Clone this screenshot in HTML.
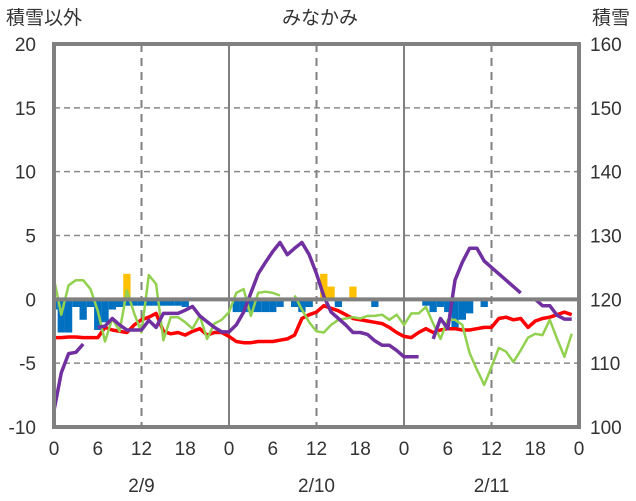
<!DOCTYPE html>
<html><head><meta charset="utf-8">
<style>
html,body{margin:0;padding:0;background:#fff;}
svg{display:block;font-family:"Liberation Sans","Noto Sans CJK JP",sans-serif;}
</style></head>
<body>
<svg id="chart" width="636" height="501" viewBox="0 0 636 501" xmlns="http://www.w3.org/2000/svg">
<text x="6" y="24" font-size="19" fill="#333">積雪以外</text>
<text x="320" y="24" font-size="19" fill="#333" text-anchor="middle">みなかみ</text>
<text x="630" y="24" font-size="19" fill="#333" text-anchor="end">積雪</text>
<g id="grid"></g>
<g id="bars"></g>
<g id="lines"></g>
<g id="frame"></g>
<g id="labels"></g>
</svg>
<script>
const leftTicks = [20, 15, 10, 5, 0, -5, -10];
const rightTicks = [160, 150, 140, 130, 120, 110, 100];
const hourTicks = ["0","6","12","18","0","6","12","18","0","6","12","18","0"];
const dateLabels = ["2/9", "2/10", "2/11"];
const blueBars = [-0.8,-2.6,-2.6,-0.6,-1.6,-0.6,-2.4,-1.8,-0.8,-0.6,-0.5,-0.5,-0.5,-0.5,-0.5,-0.5,-0.5,-0.5,-0.6,0,0,0,0,0,
 0,-1.0,-1.0,-1.0,-1.0,-1.0,-1.0,-0.6,0,-0.6,-1.0,-0.6,0,0,0,-0.6,0,0,0,0,-0.6,0,0,0,
 0,0,0,-0.5,-1.0,-0.6,-1.0,-2.2,-1.6,-1.1,0,-0.6,0,0,0,0,0,0,0,0,0,0,0,0];
const yellowBars = [0,0,0,0,0,0,0,0,0,0,2.0,0,0,0,0,0,0,0,0,0,0,0,0,0,
 0,0,0,0,0,0,0,0,0,0,0,0,0,2.0,1.0,0,0,1.0,0,0,0,0,0,0,
 0,0,0,0,0,0,0,0,0,0,0,0,0,0,0,0,0,0,0,0,0,0,0,0];
const redSeries = [-3.0,-3.0,-2.95,-2.95,-3.0,-3.0,-3.0,-2.2,-2.4,-2.5,-2.6,-2.0,-1.6,-1.4,-1.1,-2.5,-2.7,-2.6,-2.8,-2.5,-2.3,-2.8,-2.6,-2.6,
 -2.9,-3.3,-3.4,-3.4,-3.3,-3.3,-3.3,-3.2,-3.1,-2.8,-1.5,-1.2,-1.0,-0.5,-0.7,-0.9,-1.2,-1.5,-1.6,-1.7,-1.8,-1.9,-2.2,-2.6,
 -2.9,-3.0,-2.6,-2.3,-2.6,-2.4,-2.3,-2.3,-2.4,-2.4,-2.3,-2.2,-2.2,-1.5,-1.4,-1.6,-1.5,-2.2,-1.7,-1.5,-1.4,-1.2,-1.0,-1.2,null];
const greenSeries = [1.6,-1.2,1.1,1.5,1.5,0.8,-0.9,-3.3,-1.5,-2.5,0.7,-1.1,-2.6,1.9,1.2,-3.2,-1.4,-1.4,-1.8,-2.3,-1.3,-3.1,-1.9,-1.6,
 -1.0,0.5,0.8,-1.3,0.5,0.6,0.5,0.3,null,0.3,-0.8,-1.8,-2.5,-2.6,-2.0,-1.6,-1.5,-1.4,-1.5,-1.3,-1.3,-1.2,-1.6,-1.2,
 -2.0,-1.1,-1.1,-0.6,-1.9,-3.1,-1.6,-1.6,-2.0,-4.2,-5.5,-6.7,-5.3,-3.8,-4.1,-4.9,-4.0,-3.0,-2.7,-2.8,-1.6,-3.1,-4.5,-2.7,null];
const snowDepth = [102.6,108.5,111.5,111.7,113,null,115.6,115.8,117,116,115.2,115.2,115.2,116.7,115.6,117.8,117.8,117.8,118.3,118.9,117.4,116.5,115.6,114.9,
 114.9,116,118,121,124,125.8,127.5,128.9,127,128,128.9,127,124,120.5,118,117,116,114.8,114.8,114.5,113.5,112.8,112.8,112,
 111,111,111,null,113.8,117,115.4,123,125.8,128,128,126,125,124,123,122,121,null,120,119,119,117.5,116.9,116.9,null];

const NS = "http://www.w3.org/2000/svg";
const X0 = 54, X1 = 579, Y0 = 44, Y1 = 427;
const HOURS = 72;
function xs(h){ return X0 + (X1 - X0) * h / HOURS; }
function yl(v){ return Y0 + (20 - v) * (Y1 - Y0) / 30; }
function yr(v){ return Y0 + (160 - v) * (Y1 - Y0) / 60; }
function mk(tag, attrs, parent){
  const e = document.createElementNS(NS, tag);
  for (const k in attrs) e.setAttribute(k, attrs[k]);
  parent.appendChild(e);
  return e;
}
const grid = document.getElementById('grid');
const bars = document.getElementById('bars');
const lines = document.getElementById('lines');
const frame = document.getElementById('frame');
const labels = document.getElementById('labels');

// horizontal grid
leftTicks.forEach(v => {
  if (v === 20 || v === -10 || v === 0) return;
  const l = mk('line', {x1:X0, x2:X1, y1:yl(v), y2:yl(v), stroke:'#8a8a8a', 'stroke-width':1.5, 'stroke-dasharray':'6,4'}, grid);
  
  
});
// vertical grid
for (let i = 1; i < hourTicks.length - 1; i++) {
  const h = i * 6;
  if (h % 12 !== 0) continue;
  const solid = h % 24 === 0;
  const l = mk('line', {x1:xs(h), x2:xs(h), y1:Y0, y2:Y1, stroke:'#808080', 'stroke-width':2, 'stroke-dasharray': solid ? 'none' : '8,6'}, grid);
  
  
}
// bars
const bw = (X1 - X0) / HOURS;
function drawBars(arr, color, name){
  arr.forEach((v, i) => {
    if (!v) return;
    let xa = Math.max(X0, xs(i) - bw/2), xb = Math.min(X1, xs(i) + bw/2);
    const y = Math.min(yl(0), yl(v)), hgt = Math.abs(yl(v) - yl(0));
    const r = mk('rect', {x:xa, y:y, width:xb - xa, height:hgt, fill:color}, bars);
    
    
  });
}
drawBars(blueBars, '#0070c0', 'negative-bar');
drawBars(yellowBars, '#ffc000', 'positive-bar');
// zero axis
const z = mk('line', {x1:X0, x2:X1, y1:yl(0), y2:yl(0), stroke:'#808080', 'stroke-width':4}, frame);


// lines
function drawLine(arr, yf, color, w, name){
  let d = '', pen = false;
  arr.forEach((v, i) => {
    if (v === null) { pen = false; return; }
    d += (pen ? 'L' : 'M') + xs(i).toFixed(1) + ' ' + yf(v).toFixed(1) + ' ';
    pen = true;
  });
  const p = mk('path', {d:d, fill:'none', stroke:color, 'stroke-width':w, 'stroke-linejoin':'round'}, lines);
  
  
}
drawLine(redSeries, yl, '#ff0000', 3.5, 'red-series-line');
drawLine(greenSeries, yl, '#92d050', 2.5, 'green-series-line');
drawLine(snowDepth, yr, '#7030a0', 3.5, 'snow-depth-line');
// frame
const fr = mk('rect', {x:X0, y:Y0, width:X1 - X0, height:Y1 - Y0, fill:'none', stroke:'#808080', 'stroke-width':4}, frame);


// labels
leftTicks.forEach(v => {
  const t = mk('text', {x:36, y:yl(v) + 7, 'font-size':19, fill:'#333', 'text-anchor':'end'}, labels);
  t.textContent = v;
  
  
});
rightTicks.forEach(v => {
  const t = mk('text', {x:590, y:yr(v) + 7, 'font-size':19, fill:'#333', 'text-anchor':'start'}, labels);
  t.textContent = v;
  
  
});
hourTicks.forEach((s, i) => {
  const t = mk('text', {x:xs(i*6), y:455, 'font-size':19, fill:'#333', 'text-anchor':'middle'}, labels);
  t.textContent = s;
  
  
});
dateLabels.forEach((s, i) => {
  const t = mk('text', {x:xs(i*24 + 12), y:492, 'font-size':19, fill:'#333', 'text-anchor':'middle'}, labels);
  t.textContent = s;
  
  
});
</script>
</body></html>
